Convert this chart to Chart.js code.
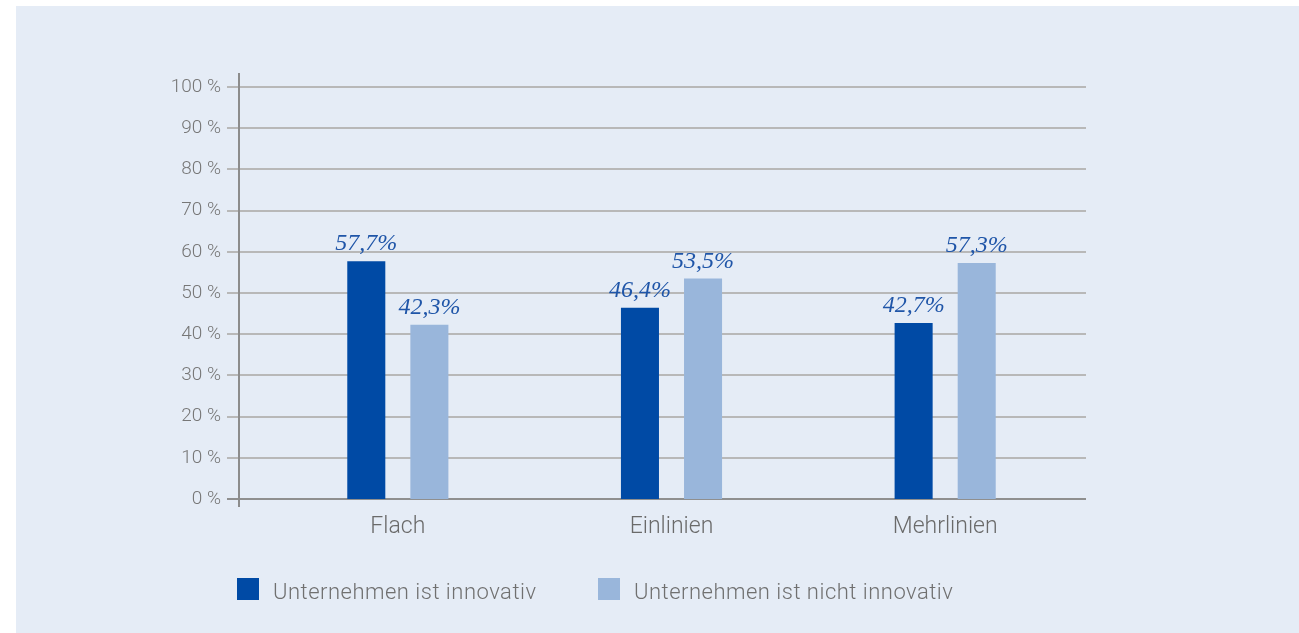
<!DOCTYPE html>
<html>
<head>
<meta charset="utf-8">
<script src="https://cdn.jsdelivr.net/npm/chart.js@4.4.1/dist/chart.umd.min.js"></script>
<style>
  html, body { margin: 0; padding: 0; background: #fff; }
  #panel { position: absolute; left: 16px; top: 6px; right: 0; bottom: 0; background: #e5ecf6; }
  #wrap { position: absolute; left: 0; top: 0; width: 1299px; height: 633px; }
</style>
</head>
<body>
<div id="panel"></div>
<div id="wrap"><canvas id="chart" width="1299" height="633"></canvas></div>
<script>
const categories = ['Flach', 'Einlinien', 'Mehrlinien'];
const seriesNames = ['Unternehmen ist innovativ', 'Unternehmen ist nicht innovativ'];
const innovativ = [57.7, 46.4, 42.7];
const nichtInnovativ = [42.3, 53.5, 57.3];
const yTicks = [0, 10, 20, 30, 40, 50, 60, 70, 80, 90, 100];

const darkBlue = '#004aa5';
const lightBlue = '#99b6db';
const fontFamily = 'Roboto, "Open Sans", sans-serif';

// grid lines reach left past the axis, axis line sits apart from the bars
const gridPlugin = {
    id: 'gridPlugin',
    beforeDatasetsDraw(chart) {
        const ctx = chart.ctx;
        const y = chart.scales.y;
        ctx.save();
        yTicks.forEach(v => {
            const py = Math.round(y.getPixelForValue(v));
            ctx.beginPath();
            ctx.strokeStyle = v === 0 ? '#8f8f8f' : '#b8b8b8';
            ctx.lineWidth = 2;
            ctx.moveTo(227, py);
            ctx.lineTo(1086, py);
            ctx.stroke();
        });
        ctx.beginPath();
        ctx.strokeStyle = '#8c8c8c';
        ctx.lineWidth = 2;
        ctx.moveTo(239, y.getPixelForValue(100) - 14);
        ctx.lineTo(239, y.getPixelForValue(0) + 8);
        ctx.stroke();
        ctx.restore();
    }
};

const valueLabels = {
    id: 'valueLabels',
    afterDatasetsDraw(chart) {
        const ctx = chart.ctx;
        ctx.save();
        ctx.font = 'italic 24px "Liberation Serif", "DejaVu Serif", serif';
        ctx.fillStyle = '#1f55a8';
        ctx.textAlign = 'center';
        ctx.textBaseline = 'alphabetic';
        chart.data.datasets.forEach((ds, i) => {
            chart.getDatasetMeta(i).data.forEach((bar, j) => {
                const txt = ds.data[j].toFixed(1).replace('.', ',') + '%';
                ctx.fillText(txt, bar.x, bar.y - 11);
            });
        });
        ctx.restore();
    }
};

const legendPlugin = {
    id: 'legendPlugin',
    afterDraw(chart) {
        const ctx = chart.ctx;
        const xs = [237, 598];
        ctx.save();
        ctx.font = '300 22px ' + fontFamily;
        if ('letterSpacing' in ctx) ctx.letterSpacing = '0.5px';
        ctx.textBaseline = 'middle';
        chart.data.datasets.forEach((ds, i) => {
            ctx.fillStyle = ds.backgroundColor;
            ctx.fillRect(xs[i], 578, 22, 22);
            ctx.fillStyle = '#707070';
            ctx.fillText(ds.label, xs[i] + 36, 593);
        });
        ctx.restore();
    }
};

new Chart(document.getElementById('chart').getContext('2d'), {
    type: 'bar',
    data: {
        labels: categories,
        datasets: [
            { label: seriesNames[0], data: innovativ, backgroundColor: darkBlue },
            { label: seriesNames[1], data: nichtInnovativ, backgroundColor: lightBlue }
        ]
    },
    options: {
        responsive: false,
        animation: false,
        layout: { padding: { top: 87, right: 217, bottom: 0, left: 0 } },
        categoryPercentage: 0.461,
        barPercentage: 0.603,
        plugins: {
            legend: { display: false },
            tooltip: { enabled: false }
        },
        scales: {
            x: {
                grid: { display: false, drawTicks: false },
                border: { display: false },
                ticks: { color: '#6a6a6a', padding: 14, font: { family: fontFamily, size: 23, weight: 300 } },
                afterFit(scale) { scale.height = 134; }
            },
            y: {
                min: 0,
                max: 100,
                grid: { display: false, drawTicks: false },
                border: { display: false },
                afterBuildTicks(scale) { scale.ticks = yTicks.map(v => ({ value: v })); },
                ticks: {
                    color: '#777',
                    padding: 40,
                    font: { family: fontFamily, size: 19, weight: 300 },
                    callback: v => v + ' %'
                },
                afterFit(scale) { scale.width = 261; }
            }
        }
    },
    plugins: [gridPlugin, valueLabels, legendPlugin]
});
</script>
</body>
</html>
